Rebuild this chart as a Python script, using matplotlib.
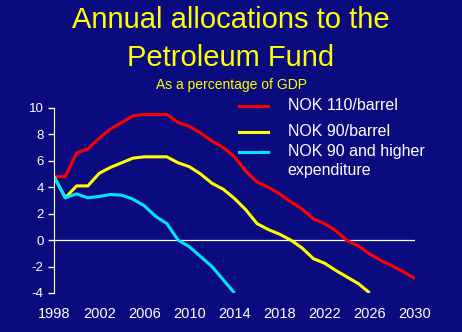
import matplotlib
matplotlib.use("Agg")
import matplotlib.pyplot as plt
from matplotlib.lines import Line2D

plt.rcParams["font.family"] = ["Liberation Sans", "DejaVu Sans"]
plt.rcParams["axes.unicode_minus"] = False

years = list(range(1998, 2031))
nok110 = [4.8, 4.8, 6.6, 6.9, 7.7, 8.4, 8.9, 9.4, 9.5, 9.5, 9.5, 8.9, 8.6, 8.1,
          7.5, 7.0, 6.3, 5.2, 4.4, 4.0, 3.5, 2.9, 2.35, 1.6, 1.25, 0.7, -0.05,
          -0.45, -1.05, -1.55, -1.95, -2.4, -2.9]
nok90 = [4.8, 3.2, 4.1, 4.1, 5.05, 5.5, 5.85, 6.2, 6.3, 6.3, 6.3, 5.85, 5.55,
         5.0, 4.3, 3.85, 3.15, 2.3, 1.25, 0.8, 0.45, 0.0, -0.6, -1.4, -1.75,
         -2.3, -2.8, -3.3, -4.0]
nok90_exp = [4.8, 3.2, 3.5, 3.2, 3.3, 3.45, 3.4, 3.1, 2.6, 1.8, 1.25, 0.0,
             -0.5, -1.25, -2.0, -3.0, -4.0]

labels = ["NOK 110/barrel", "NOK 90/barrel", "NOK 90 and higher\nexpenditure"]
colors = ["#ff0000", "#ffff00", "#00e5ff"]
xticks = list(range(1998, 2031, 4))
yticks = list(range(-4, 11, 2))

bg = "#0b0b80"
fig = plt.figure(figsize=(4.62, 3.32), dpi=100, facecolor=bg)
ax = fig.add_axes([0.117, 0.1175, 0.781, 0.5575])
ax.set_facecolor(bg)

series = [nok110, nok90, nok90_exp]
for vals, lab, col in zip(series, labels, colors):
    ax.plot(years[:len(vals)], vals, color=col, linewidth=2.2, label=lab,
            solid_capstyle="butt")

ax.axhline(0, color="white", linewidth=0.9, zorder=1)

ax.set_xlim(1998, 2030)
ax.set_ylim(-4, 10)
ax.set_xticks(xticks)
ax.set_yticks(yticks)
ax.tick_params(axis="x", length=0, pad=10, colors="white", labelsize=10.5)
ax.tick_params(axis="y", length=4, width=1, pad=3.5, colors="white",
               labelsize=9.5)
for s in ["top", "right", "bottom"]:
    ax.spines[s].set_visible(False)
ax.spines["left"].set_color("white")

# legend drawn by hand so the cyan key sits on the first text line
leg_y = [0.681, 0.603, 0.543]
for y, lab, col in zip(leg_y, labels, colors):
    fig.add_artist(Line2D([0.517, 0.580], [y, y], color=col, linewidth=2.2,
                          transform=fig.transFigure))
    fig.text(0.623, y, lab, ha="left", va="top" if "\n" in lab else "center",
             color="white", fontsize=11.5, linespacing=1.38,
             transform=fig.transFigure)

fig.texts[-1].set_y(leg_y[-1] + 0.024)

fig.text(0.5, 0.94, "Annual allocations to the", ha="center", va="center",
         color="#ffff00", fontsize=21)
fig.text(0.5, 0.826, "Petroleum Fund", ha="center", va="center",
         color="#ffff00", fontsize=21)
fig.text(0.5, 0.744, "As a percentage of GDP", ha="center", va="center",
         color="#ffff00", fontsize=10)

fig.savefig("out.png", dpi=100, facecolor=bg)
